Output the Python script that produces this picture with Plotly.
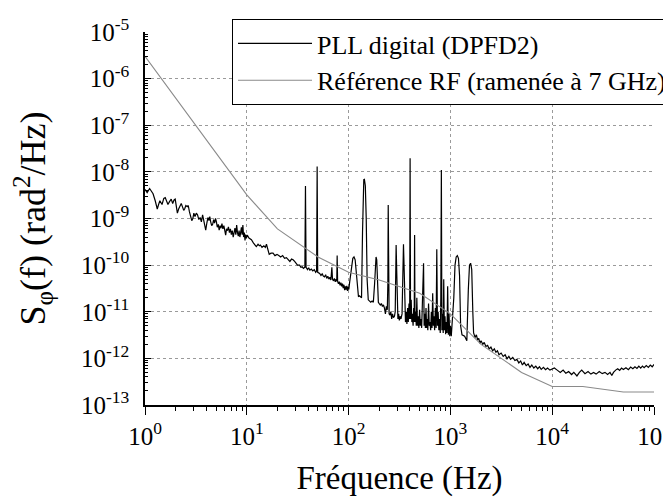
import plotly.graph_objects as go

# ---------------- data ----------------
# PLL digital (DPFD2) - phase noise PSD
freq_pll = [
    1.00, 1.05, 1.11, 1.16, 1.20, 1.26, 1.32, 1.36, 1.40, 1.47, 1.53, 1.58, 1.63, 1.68, 1.74,
    1.81, 1.87, 1.93, 1.98, 2.03, 2.08, 2.14, 2.20, 2.27, 2.33, 2.40, 2.45, 2.52, 2.60, 2.66,
    2.73, 2.80, 2.88, 2.95, 3.02, 3.10, 3.19, 3.28, 3.38, 3.48, 3.58, 3.68, 3.78, 3.86, 3.95,
    4.05, 4.15, 4.25, 4.33, 4.42, 4.52, 4.62, 4.72, 4.82, 4.93, 5.03, 5.13, 5.25, 5.35, 5.47,
    5.58, 5.70, 5.82, 5.95, 6.08, 6.20, 6.32, 6.45, 6.60, 6.75, 6.90, 7.05, 7.20, 7.35, 7.50,
    7.65, 7.80, 7.95, 8.10, 8.25, 8.40, 8.55, 8.70, 8.85, 9.00, 9.15, 9.30, 9.45, 9.60, 9.75,
    9.90, 10.1,
    10.5, 11.1, 11.6, 12.0, 12.4, 12.9, 13.3, 13.6, 14.1, 14.7, 15.2, 15.6, 16.1, 16.6, 17.3,
    18.1, 18.9, 19.8, 20.6, 21.5, 22.5, 23.5, 24.5, 25.5, 26.5, 27.5, 28.5, 29.5, 30.5, 31.5,
    33.0, 34.0, 35.0, 36.0, 37.2, 37.7, 38.2, 39.5, 40.5, 41.6, 43.0, 44.5, 46.0, 47.5, 48.5,
    49.1, 49.7, 51.0, 52.0, 53.5, 55.0, 56.5, 58.0, 59.5, 61.0, 62.5, 64.0, 65.5, 67.0, 68.5,
    69.5, 71.0, 72.5, 74.0, 75.5, 76.5, 77.2, 78.0, 79.5, 81.0, 82.5, 84.0, 85.5, 87.0, 88.5,
    90.0, 91.5, 93.0, 94.5, 96.0, 97.5, 99.0, 100.5, 102.0,
    104, 107, 110, 113, 116, 119, 122, 125, 128, 132, 134, 137, 139, 141, 143,
    146, 149, 152, 156, 160, 165, 170, 175, 180, 183, 186, 189, 192, 196, 200,
    205, 210, 215, 220, 225, 230, 235, 240, 243, 245, 247, 250, 255, 260, 265,
    270, 276, 282, 287, 290, 293, 296, 300, 305, 310, 315, 320, 327, 335, 341,
    346, 351, 356, 362, 368, 374, 380, 386, 392, 398, 402, 406, 412, 418, 424,
    430, 436, 441, 445, 449, 455, 462, 468, 475, 482, 490, 498, 506, 514, 522,
    530, 545, 552, 560, 568, 576, 584, 592, 600, 610, 620, 630, 640, 650, 660,
    670, 680, 690, 700, 712, 724, 735, 746, 758, 770, 782, 795, 805, 815, 825,
    838, 850, 860, 872, 885, 898, 912, 926, 940, 955, 970, 985, 1000,
    1020, 1080, 1110, 1140, 1170, 1200, 1230, 1260, 1300, 1380, 1450, 1500, 1540, 1580, 1620,
    1660, 1690, 1750, 1800, 1850, 1900, 1950, 2000, 2080, 2150, 2230, 2320, 2400, 2500, 2600,
    2700, 2800, 2900, 3000, 3150, 3300, 3450, 3600, 3750, 3900, 4100, 4300, 4500, 4700, 4900,
    5100, 5300, 5550, 5800, 6050, 6300, 6600, 6900, 7200, 7500, 7800, 8200, 8600, 9000, 9500,
    10000, 10500, 11200, 12000, 12800, 13600, 14500, 15500, 16300, 17500, 18500, 19500, 21000, 22500, 24000,
    25500, 27000, 29000, 31000, 33000, 35000, 37000, 38500, 40000, 42000, 44000, 46000, 48000, 50000, 53000,
    56000, 59000, 62000, 65000, 68000, 71000, 74000, 77000, 80000, 84000, 88000, 92000, 96000, 100000,
]
s_pll = [
    4.2e-9, 3.6e-9, 4.4e-9, 3.9e-9, 3.4e-9, 2.4e-9, 1.6e-9, 2.0e-9, 2.4e-9, 2.0e-9, 2.7e-9, 2.8e-9, 2.3e-9, 2.0e-9, 2.3e-9,
    2.6e-9, 2.1e-9, 2.5e-9, 2.6e-9, 1.8e-9, 1.3e-9, 1.6e-9, 1.9e-9, 2.1e-9, 1.8e-9, 1.5e-9, 1.6e-9, 1.9e-9, 1.8e-9, 1.9e-9,
    1.4e-9, 1.1e-9, 0.9e-9, 1.0e-9, 1.3e-9, 1.1e-9, 1.3e-9, 1.2e-9, 0.95e-9, 1.05e-9, 0.85e-9, 1.2e-9, 0.9e-9, 0.75e-9, 0.56e-9,
    0.8e-9, 1.05e-9, 0.9e-9, 1.1e-9, 0.85e-9, 0.7e-9, 0.75e-9, 0.95e-9, 0.8e-9, 1.0e-9, 0.85e-9, 0.65e-9, 0.75e-9, 0.56e-9, 0.7e-9,
    0.62e-9, 0.78e-9, 0.6e-9, 0.7e-9, 0.5e-9, 0.44e-9, 0.6e-9, 0.55e-9, 0.66e-9, 0.5e-9, 0.6e-9, 0.45e-9, 0.55e-9, 0.4e-9, 0.5e-9,
    0.62e-9, 0.45e-9, 0.72e-9, 0.5e-9, 0.42e-9, 0.55e-9, 0.4e-9, 0.5e-9, 0.65e-9, 0.45e-9, 0.72e-9, 0.4e-9, 0.5e-9, 0.34e-9, 0.45e-9,
    0.38e-9, 0.44e-9,
    0.38e-9, 0.35e-9, 0.3e-9, 0.27e-9, 0.25e-9, 0.28e-9, 0.26e-9, 0.27e-9, 0.24e-9, 0.26e-9, 0.24e-9, 0.28e-9, 0.2e-9, 0.17e-9, 0.18e-9,
    0.18e-9, 0.16e-9, 0.17e-9, 0.16e-9, 0.15e-9, 0.16e-9, 0.14e-9, 0.145e-9, 0.13e-9, 0.12e-9, 0.135e-9, 0.13e-9, 0.12e-9, 0.11e-9, 0.1e-9,
    0.1e-9, 0.09e-9, 0.092e-9, 0.085e-9, 0.09e-9, 5e-9, 0.09e-9, 0.08e-9, 0.088e-9, 0.078e-9, 0.082e-9, 0.075e-9, 0.08e-9, 0.07e-9, 0.075e-9,
    1.3e-8, 0.07e-9, 0.068e-9, 0.066e-9, 0.06e-9, 0.065e-9, 0.058e-9, 0.056e-9, 0.062e-9, 0.052e-9, 0.058e-9, 0.05e-9, 0.055e-9, 0.048e-9, 0.09e-9,
    0.05e-9, 0.046e-9, 0.052e-9, 0.044e-9, 0.05e-9, 0.045e-9, 1.6e-10, 0.045e-9, 0.04e-9, 0.044e-9, 0.037e-9, 0.042e-9, 0.035e-9, 0.04e-9, 0.032e-9,
    0.038e-9, 0.029e-9, 0.035e-9, 0.03e-9, 0.036e-9, 0.028e-9, 0.034e-9, 0.03e-9, 0.04e-9,
    0.6e-10, 1.0e-10, 1.4e-10, 1.5e-10, 1.3e-10, 0.7e-10, 0.3e-10, 0.21e-10, 0.22e-10, 0.2e-10, 0.2e-10, 0.5e-9, 4e-9, 6.8e-9, 6.9e-9,
    5e-9, 1e-9, 0.5e-10, 0.18e-10, 0.17e-10, 0.16e-10, 0.17e-10, 0.16e-10, 0.4e-10, 1.2e-10, 1.5e-10, 1.3e-10, 0.5e-10, 0.16e-10, 0.15e-10,
    0.14e-10, 0.15e-10, 0.13e-10, 0.14e-10, 0.12e-10, 0.09e-10, 0.13e-10, 0.11e-10, 0.4e-10, 1.95e-9, 0.3e-10, 0.09e-10, 0.085e-10, 0.1e-10, 0.07e-10,
    0.09e-10, 0.075e-10, 0.08e-10, 0.1e-10, 1.5e-10, 2.7e-10, 1e-10, 0.08e-10, 0.07e-10, 0.09e-10, 0.065e-10, 0.08e-10, 0.07e-10, 0.09e-10, 1.2e-10,
    2.8e-10, 0.9e-10, 0.08e-10, 0.06e-10, 0.1e-10, 0.055e-10, 0.12e-10, 0.06e-10, 0.15e-10, 0.07e-10, 1.95e-8, 0.07e-10, 0.18e-10, 0.06e-10, 0.09e-10,
    0.05e-10, 0.12e-10, 0.06e-10, 4.4e-10, 0.06e-10, 0.1e-10, 0.05e-10, 0.2e-10, 0.05e-10, 0.08e-10, 0.045e-10, 0.11e-10, 0.05e-10, 0.07e-10, 0.045e-10,
    0.2e-10, 1.1e-10, 0.05e-10, 0.09e-10, 0.045e-10, 0.12e-10, 0.045e-10, 0.07e-10, 0.04e-10, 0.15e-10, 0.05e-10, 0.06e-10, 0.04e-10, 0.1e-10, 0.045e-10,
    0.25e-10, 0.05e-10, 0.08e-10, 0.04e-10, 0.12e-10, 0.045e-10, 2.2e-10, 0.05e-10, 0.1e-10, 0.04e-10, 0.07e-10, 0.035e-10, 0.2e-10, 1.1e-8, 0.04e-10,
    0.09e-10, 0.035e-10, 0.5e-10, 0.04e-10, 0.08e-10, 0.033e-10, 0.06e-10, 0.035e-10, 0.35e-10, 0.032e-10, 0.09e-10, 0.03e-10, 0.05e-10,
    0.03e-10, 0.2e-10, 1e-10, 1.5e-10, 1.6e-10, 1.4e-10, 0.6e-10, 0.05e-10, 3.2e-12, 3.0e-12, 2.4e-12, 0.3e-10, 1.0e-10, 1.1e-10, 0.8e-10,
    0.1e-10, 3.5e-12, 2.8e-12, 3.2e-12, 2.5e-12, 2.7e-12, 2.1e-12, 2.4e-12, 2.0e-12, 2.2e-12, 1.8e-12, 1.9e-12, 1.6e-12, 1.75e-12, 1.45e-12,
    1.6e-12, 1.35e-12, 1.45e-12, 1.2e-12, 1.3e-12, 1.1e-12, 1.2e-12, 0.98e-12, 1.1e-12, 0.95e-12, 1.05e-12, 0.9e-12, 0.95e-12, 0.8e-12, 0.88e-12,
    0.72e-12, 0.82e-12, 0.7e-12, 0.76e-12, 0.64e-12, 0.72e-12, 0.62e-12, 0.68e-12, 0.6e-12, 0.66e-12, 0.58e-12, 0.64e-12, 0.57e-12, 0.62e-12, 0.56e-12,
    0.6e-12, 0.62e-12, 0.56e-12, 0.5e-12, 0.56e-12, 0.48e-12, 0.52e-12, 0.45e-12, 0.5e-12, 0.42e-12, 0.5e-12, 0.56e-12, 0.47e-12, 0.52e-12, 0.46e-12,
    0.5e-12, 0.46e-12, 0.52e-12, 0.47e-12, 0.5e-12, 0.45e-12, 0.5e-12, 0.43e-12, 0.5e-12, 0.56e-12, 0.6e-12, 0.55e-12, 0.62e-12, 0.58e-12, 0.63e-12,
    0.57e-12, 0.65e-12, 0.6e-12, 0.66e-12, 0.61e-12, 0.68e-12, 0.62e-12, 0.68e-12, 0.63e-12, 0.7e-12, 0.64e-12, 0.72e-12, 0.66e-12, 0.74e-12,
]

# Référence RF (ramenée à 7 GHz)
freq_ref = [1, 10, 20, 50, 100, 200, 500, 1000, 2000, 5000, 10000, 20000, 50000, 100000]
s_ref = [3e-6, 3.2e-9, 6e-10, 1.5e-10, 7e-11, 4.8e-11, 2.5e-11, 9e-12, 2e-12, 5e-13,
         2.5e-13, 2.5e-13, 1.9e-13, 1.9e-13]

# tick labels
x_tickvals = [1, 10, 100, 1000, 10000, 100000]
x_ticktext = ["10<sup>0</sup>", "10<sup>1</sup>", "10<sup>2</sup>", "10<sup>3</sup>",
              "10<sup>4</sup>", "10<sup>5</sup>"]
y_tickvals = [1e-13, 1e-12, 1e-11, 1e-10, 1e-9, 1e-8, 1e-7, 1e-6, 1e-5]
y_ticktext = ["10<sup>-13</sup>", "10<sup>-12</sup>", "10<sup>-11</sup>", "10<sup>-10</sup>",
              "10<sup>-9</sup>", "10<sup>-8</sup>", "10<sup>-7</sup>", "10<sup>-6</sup>",
              "10<sup>-5</sup>"]

name_pll = "PLL digital (DPFD2)"
name_ref = "Référence RF (ramenée à 7 GHz)"
x_title = "Fréquence (Hz)"
y_title = "S<sub>φ</sub>(f) (rad<sup>2</sup>/Hz)"

# ---------------- figure ----------------
# the page adds an 8 px body margin, so the figure is 8 px smaller
FONT = "Liberation Serif"
L, R, T, B = 137, 17, 24, 92
W, H = 663, 489
PW, PH = W - L - R, H - T - B

fig = go.Figure()
fig.add_trace(go.Scatter(x=freq_pll, y=s_pll, mode="lines", name=name_pll,
                         line=dict(color="#000000", width=1.2)))
fig.add_trace(go.Scatter(x=freq_ref, y=s_ref, mode="lines", name=name_ref,
                         line=dict(color="#8a8a8a", width=1.1)))

fig.update_layout(
    width=W, height=H,
    margin=dict(l=L, r=R, t=T, b=B, autoexpand=False),
    paper_bgcolor="white", plot_bgcolor="white",
    font=dict(family=FONT, size=20, color="black"),
    showlegend=True,
    legend=dict(
        x=(224 - L) / PW, y=1 + (T - 11) / PH, xanchor="left", yanchor="top",
        bgcolor="white", bordercolor="black", borderwidth=1,
        font=dict(family=FONT, size=26), itemwidth=74,
    ),
)

fig.update_xaxes(
    type="log", range=[0, 5.00001], automargin=False,
    tickvals=x_tickvals, ticktext=x_ticktext, ticklabeloverflow="allow",
    tickfont=dict(family=FONT, size=25),
    ticks="outside", ticklen=8, tickwidth=1, tickcolor="black",
    minor=dict(ticks="outside", ticklen=4, tickwidth=1, tickcolor="black", showgrid=False, dtick="D1"),
    showline=True, linecolor="black", linewidth=1.5,
    showgrid=True, gridcolor="#9a9a9a", griddash="dot", gridwidth=1,
    zeroline=False,
    title=dict(text=x_title, font=dict(family=FONT, size=33), standoff=20),
)
fig.update_yaxes(
    type="log", range=[-13.00001, -5], automargin=False,
    tickvals=y_tickvals, ticktext=y_ticktext, ticklabeloverflow="allow",
    tickfont=dict(family=FONT, size=25),
    ticks="inside", ticklen=6, tickwidth=1, tickcolor="black",
    minor=dict(ticks="inside", ticklen=3, tickwidth=1, tickcolor="black", showgrid=False, dtick="D1"),
    showline=True, linecolor="black", linewidth=1.5,
    showgrid=True, gridcolor="#9a9a9a", griddash="dot", gridwidth=1,
    zeroline=False,
    ticklabelstandoff=9,
    title=dict(text=y_title, font=dict(family=FONT, size=36), standoff=31),
)

# force the serif face on every svg text (also the hidden measuring node), then redraw
font_js = """
var st = document.createElement('style');
st.textContent = 'svg text, svg tspan { font-family: "Liberation Serif", "Times New Roman", serif !important; }';
document.head.appendChild(st);
var gd = document.getElementById('{plot_id}');
Plotly.newPlot(gd, gd.data, gd.layout);
"""

fig.write_html("out.html", post_script=font_js)
